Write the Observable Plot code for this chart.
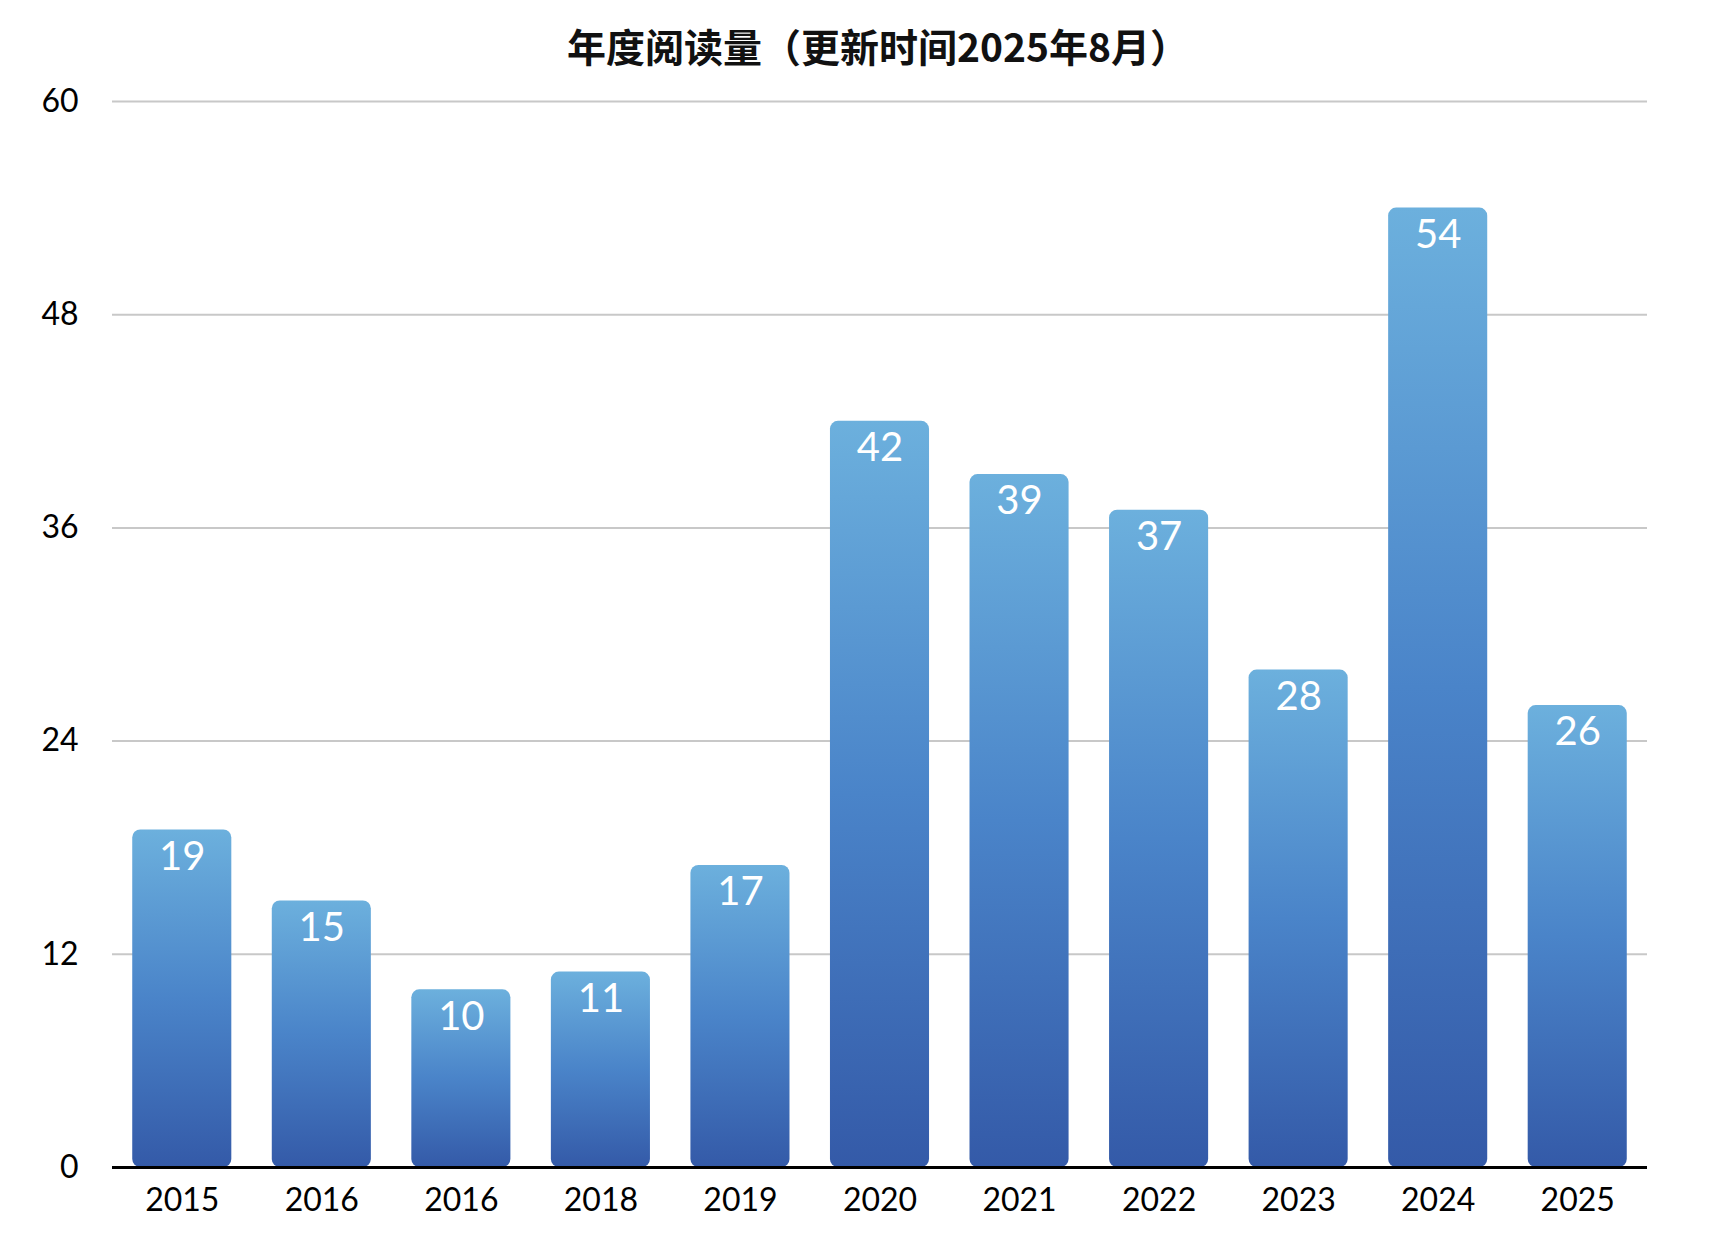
<!DOCTYPE html>
<html>
<head>
<meta charset="utf-8">
<script src="https://cdn.jsdelivr.net/npm/d3@7"></script>
<script src="https://cdn.jsdelivr.net/npm/@observablehq/plot@0.6"></script>
<style>
  html, body { margin: 0; padding: 0; background: #fff; }
  #title {
    width: 1718px; height: 80px; box-sizing: border-box;
    padding-left: 38px; text-align: center;
    font-family: "Noto Sans CJK SC", sans-serif; font-weight: 700;
    font-size: 39px; line-height: 90px; color: #111;
  }
  #chart svg { display: block; }
</style>
</head>
<body>
<div id="title">年度阅读量（更新时间2025年8月）</div>
<div id="chart"></div>
<script>
const years = ["2015", "2016", "2016", "2018", "2019", "2020", "2021", "2022", "2023", "2024", "2025"];
const counts = [19, 15, 10, 11, 17, 42, 39, 37, 28, 54, 26];
const yTicks = [0, 12, 24, 36, 48, 60];

const data = years.map((y, i) => ({i, year: y, value: counts[i]}));

const chart = Plot.plot({
  width: 1718,
  height: 1162,
  marginLeft: 112,
  marginRight: 71,
  marginTop: 21,
  marginBottom: 75,
  style: {fontFamily: "Lato, sans-serif", fontSize: "32px", color: "#000", background: "#fff"},
  x: {
    type: "band",
    domain: d3.range(years.length),
    paddingInner: 0.29,
    paddingOuter: 0.145,
    round: false,
    tickFormat: i => years[i],
    tickSize: 0,
    tickPadding: 21,
    label: null
  },
  y: {
    domain: [0, 60],
    ticks: yTicks,
    tickSize: 0,
    tickPadding: 34,
    label: null
  },
  marks: [
    Plot.ruleY(yTicks, {stroke: "#c8c8c8", strokeWidth: 2}),
    Plot.barY(data, {x: "i", y: "value", fill: "url(#barGrad)", rx: 8}),
    Plot.ruleY([0], {stroke: "#000", strokeWidth: 3}),
    Plot.text(data, {x: "i", y: "value", text: d => String(d.value), dy: 27, fill: "#fff", fontSize: 40, lineAnchor: "middle"})
  ]
});

const svg = d3.select(chart);
const defs = svg.insert("defs", ":first-child");
const g = defs.append("linearGradient").attr("id", "barGrad").attr("x1", 0).attr("y1", 0).attr("x2", 0).attr("y2", 1);
g.append("stop").attr("offset", "0%").attr("stop-color", "#6cb0dd");
g.append("stop").attr("offset", "50%").attr("stop-color", "#4a84c9");
g.append("stop").attr("offset", "100%").attr("stop-color", "#345aa8");

document.getElementById("chart").appendChild(chart);
</script>
</body>
</html>
